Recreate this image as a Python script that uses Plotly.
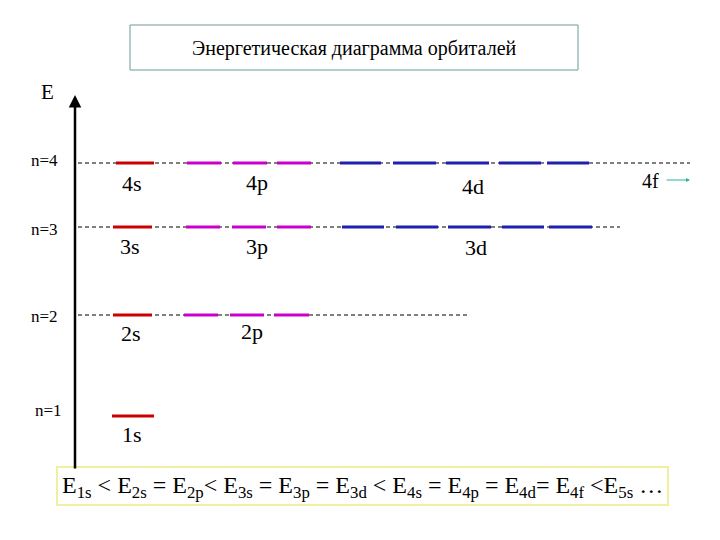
import plotly.graph_objects as go

# energy levels (pixel-like y coordinate of each shell)
shells = ["n=4", "n=3", "n=2", "n=1"]
shell_y = [163, 227, 315, 416]
shell_label_y = [160, 229, 316, 410]
guide_end = [690, 620, 468, None]

# orbital sublevels: name, shell y, colour, list of (x0, x1) boxes
orbitals = [
    ("4s", 163, "#cc0000", [(116, 154)]),
    ("4p", 163, "#cc00cc", [(187, 221), (233, 267), (277, 311)]),
    ("4d", 163, "#2020b0", [(340, 381), (393, 436), (446, 489), (499, 541), (547, 589)]),
    ("3s", 227, "#cc0000", [(113, 152)]),
    ("3p", 227, "#cc00cc", [(186, 220), (232, 266), (277, 311)]),
    ("3d", 227, "#2020b0", [(342, 384), (396, 438), (448, 491), (502, 544), (549, 592)]),
    ("2s", 315, "#cc0000", [(113, 152)]),
    ("2p", 315, "#cc00cc", [(184, 218), (230, 264), (274, 309)]),
    ("1s", 416, "#cc0000", [(112, 154)]),
]
label_pos = {"4s": (132, 183), "4p": (257, 182), "4d": (473, 186), "3s": (130, 246),
             "3p": (257, 246), "3d": (476, 247), "2s": (131, 333), "2p": (252, 331),
             "1s": (132, 434)}

FONT = "'Liberation Serif', 'DejaVu Serif', serif"
fig = go.Figure()

# dashed guides
for y, x1 in zip(shell_y, guide_end):
    if x1:
        fig.add_trace(go.Scatter(x=[78, x1], y=[y, y], mode="lines",
                                 line=dict(color="black", width=1, dash="4px,3px"),
                                 hoverinfo="skip", showlegend=False))

for name, y, col, boxes in orbitals:
    for x0, x1 in boxes:
        fig.add_trace(go.Scatter(x=[x0, x1], y=[y, y], mode="lines",
                                 line=dict(color=col, width=3),
                                 hoverinfo="skip", showlegend=False))
    lx, ly = label_pos[name]
    fig.add_annotation(x=lx, y=ly, text=name, showarrow=False, font=dict(size=22))

fig.add_annotation(x=650, y=181, text="4f", showarrow=False, font=dict(size=20))
fig.add_annotation(x=690, y=180, ax=665, ay=180, xref="x", yref="y", axref="x", ayref="y",
                   showarrow=True, arrowhead=2, arrowsize=0.8, arrowwidth=1, arrowcolor="#30b0a0", text="")

# energy axis
fig.add_annotation(x=75, y=95, ax=75, ay=470, xref="x", yref="y", axref="x", ayref="y",
                   showarrow=True, arrowhead=2, arrowwidth=2.5, arrowcolor="black", text="")
fig.add_annotation(x=47, y=92, text="E", showarrow=False, font=dict(size=21))
for s, y, dx in zip(shells, shell_label_y, [44, 44, 44, 48]):
    fig.add_annotation(x=dx, y=y, text=s, showarrow=False, font=dict(size=17))

# title box
fig.add_shape(type="rect", x0=130, x1=578, y0=25, y1=70, line=dict(color="#6a9a9a", width=1))
fig.add_annotation(x=354, y=48, text="Энергетическая диаграмма орбиталей", showarrow=False,
                   font=dict(size=20))

# bottom relation box
fig.add_shape(type="rect", x0=57, x1=668, y0=467, y1=505, line=dict(color="#f0f0a0", width=2))
rel = ("E<sub>1s</sub> < E<sub>2s</sub> = E<sub>2p</sub>< E<sub>3s</sub> = E<sub>3p</sub> = "
       "E<sub>3d</sub> < E<sub>4s</sub> = E<sub>4p</sub> = E<sub>4d</sub>= E<sub>4f</sub> <E<sub>5s</sub> …")
fig.add_annotation(x=362, y=487, text=rel, showarrow=False, font=dict(size=24))

# page body adds an 8px margin, so shift the ranges to keep pixel positions
fig.update_xaxes(range=[8, 728], visible=False)
fig.update_yaxes(range=[548, 8], visible=False)
fig.update_layout(width=720, height=540, margin=dict(l=0, r=0, t=0, b=0),
                  font=dict(family=FONT, color="black"),
                  plot_bgcolor="white", paper_bgcolor="white")
fig.write_html("out.html")
